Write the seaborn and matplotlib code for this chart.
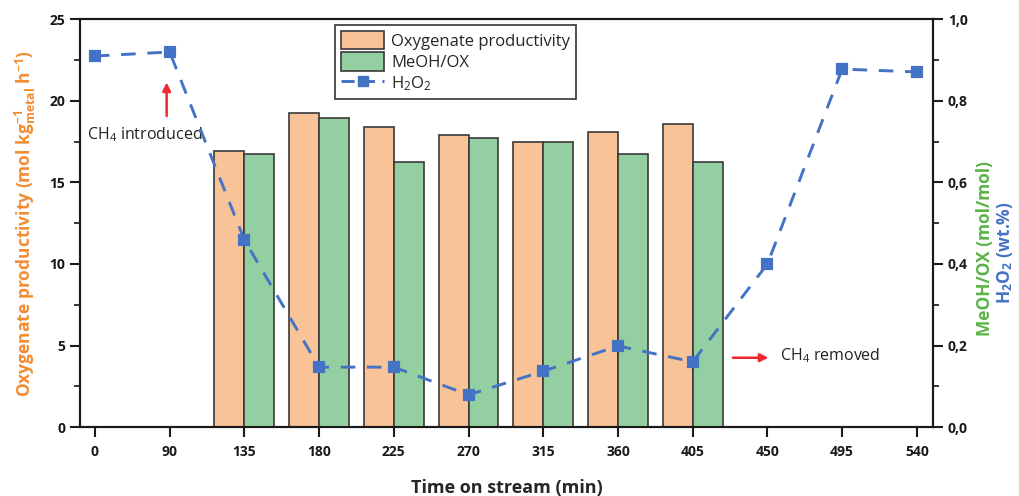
import matplotlib
matplotlib.use("Agg")
import matplotlib.pyplot as plt
import seaborn as sns
import numpy as np
import pandas as pd
from matplotlib.patches import Patch
from matplotlib.lines import Line2D
from matplotlib.ticker import MultipleLocator, FuncFormatter

# ---- data ----
times = ["0", "90", "135", "180", "225", "270", "315", "360", "405", "450", "495", "540"]
bar_times = ["135", "180", "225", "270", "315", "360", "405"]
oxy_prod = [16.95, 19.24, 18.40, 17.93, 17.50, 18.08, 18.57]
meoh_ox = [0.669, 0.759, 0.650, 0.709, 0.698, 0.669, 0.649]
h2o2 = [0.910, 0.920, 0.459, 0.147, 0.147, 0.079, 0.137, 0.199, 0.160, 0.400, 0.878, 0.871]

series_names = ["Oxygenate productivity", "MeOH/OX"]
c_orange = "#F9C398"
c_green = "#93CFA0"
c_blue = "#4472C4"
c_edge = "#3a3a3a"

sns.set_style("ticks")
plt.rcParams["font.family"] = ["Open Sans", "DejaVu Sans"]
plt.rcParams["mathtext.fontset"] = "custom"
plt.rcParams["mathtext.rm"] = "Open Sans"
plt.rcParams["mathtext.bf"] = "Open Sans:bold"
plt.rcParams["mathtext.it"] = "Open Sans:italic"

fig = plt.figure(figsize=(10.2, 4.96), dpi=100)
ax = fig.add_axes([0.0784, 0.139, 0.915 - 0.0784, 0.961 - 0.139])
ax2 = ax.twinx()

# long table: each axis shows only its own series (the other is NaN) so dodge slots match
n = len(bar_times)
df_left = pd.DataFrame({"time": bar_times * 2,
                        "value": list(oxy_prod) + [np.nan] * n,
                        "series": [series_names[0]] * n + [series_names[1]] * n})
df_right = pd.DataFrame({"time": bar_times * 2,
                         "value": [np.nan] * n + list(meoh_ox),
                         "series": [series_names[0]] * n + [series_names[1]] * n})
df_h2o2 = pd.DataFrame({"time": times, "h2o2": h2o2})

sns.barplot(data=df_left, x="time", y="value", hue="series", order=times,
            hue_order=series_names, palette=[c_orange, c_green], ax=ax, saturation=1,
            edgecolor=c_edge, linewidth=1.2, legend=False, errorbar=None)
sns.barplot(data=df_right, x="time", y="value", hue="series", order=times,
            hue_order=series_names, palette=[c_orange, c_green], ax=ax2, saturation=1,
            edgecolor=c_edge, linewidth=1.2, legend=False, errorbar=None)
sns.pointplot(data=df_h2o2, x="time", y="h2o2", order=times, ax=ax2,
              color=c_blue, markers="s", linestyles="--", markersize=7.5,
              linewidth=2.1, errorbar=None)
for ln in ax2.lines:
    ln.set_dashes([5, 4])
    ln.set_zorder(5)

ax.set_xlim(-0.2, 11.22)
ax.set_ylim(0, 25)
ax2.set_ylim(0, 1.0)

ax.yaxis.set_major_locator(MultipleLocator(5))
ax.yaxis.set_minor_locator(MultipleLocator(2.5))
ax2.yaxis.set_major_locator(MultipleLocator(0.2))
ax2.yaxis.set_minor_locator(MultipleLocator(0.1))
ax2.yaxis.set_major_formatter(FuncFormatter(lambda v, p: f"{v:.1f}".replace(".", ",")))

for a in (ax, ax2):
    for s in a.spines.values():
        s.set_visible(True)
        s.set_color("#1a1a1a")
        s.set_linewidth(1.5)
    a.tick_params(axis="both", which="major", direction="out", length=7, width=1.5,
                  labelsize=10, colors="#1a1a1a")
    a.tick_params(axis="y", which="minor", direction="out", length=4, width=1.3)
    for lab in a.get_xticklabels() + a.get_yticklabels():
        lab.set_fontweight("bold")

ax.tick_params(axis="x", pad=6)
ax.set_xlabel("Time on stream (min)", fontsize=13, fontweight="bold", labelpad=14)
ax2.set_xlabel("")
ax.set_ylabel(r"Oxygenate productivity (mol kg$_{\mathbf{metal}}^{\mathbf{-1}}$ h$^{\mathbf{-1}}$)",
              fontsize=12.5, fontweight="bold", color="#F28C32", labelpad=8)
ax2.set_ylabel("")

fig.text(0.966, 0.50, "MeOH/OX (mol/mol)", rotation=90, ha="center", va="center",
         fontsize=12.5, fontweight="bold", color="#5BB346")
fig.text(0.985, 0.49, r"H$_\mathbf{2}$O$_\mathbf{2}$ (wt.%)", rotation=90, ha="center", va="center",
         fontsize=12.5, fontweight="bold", color=c_blue)

# annotations
ax.annotate("", xy=(0.96, 21.3), xytext=(0.96, 18.9),
            arrowprops=dict(arrowstyle="-|>", color="#F0282D", lw=1.8, mutation_scale=12))
ax.text(-0.1, 17.9, r"CH$_4$ introduced", fontsize=11.5, va="center", ha="left", color="#222222")
ax.annotate("", xy=(9.05, 4.25), xytext=(8.5, 4.25),
            arrowprops=dict(arrowstyle="-|>", color="#F0282D", lw=1.8, mutation_scale=12))
ax.text(9.17, 4.35, r"CH$_4$ removed", fontsize=11.5, va="center", ha="left", color="#222222")

handles = [Patch(facecolor=c_orange, edgecolor=c_edge, linewidth=1.2),
           Patch(facecolor=c_green, edgecolor=c_edge, linewidth=1.2),
           Line2D([0], [0], color=c_blue, lw=2.1, linestyle="-", marker="s", markersize=7,
                  dashes=[4.5, 2.5])]
labels = ["Oxygenate productivity", "MeOH/OX", r"H$_2$O$_2$"]
leg = ax2.legend(handles, labels, loc="upper left", bbox_to_anchor=(0.299, 0.985),
                 frameon=True, fancybox=False, fontsize=12, handlelength=2.6,
                 handleheight=1.3, borderpad=0.35, labelspacing=0.15, handletextpad=0.4,
                 borderaxespad=0)
leg.get_frame().set_edgecolor("#333333")
leg.get_frame().set_linewidth(1.2)
leg.get_frame().set_alpha(1)
leg.set_zorder(10)

fig.savefig("out.png", dpi=100)
